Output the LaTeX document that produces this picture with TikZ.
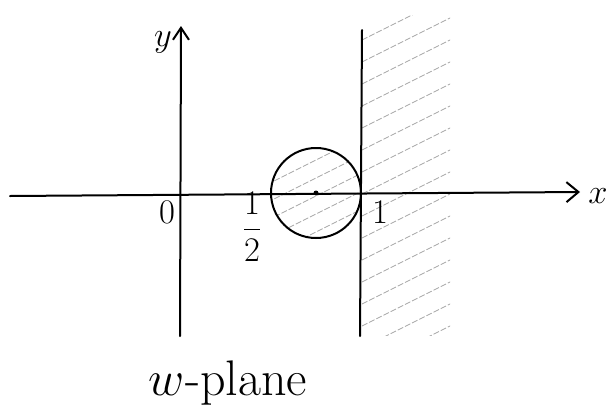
\documentclass[tikz,border=0pt]{standalone}
\usepackage{amsmath}
\usetikzlibrary{arrows.meta}
\begin{document}
\begin{tikzpicture}[x=0.5pt,y=-0.5pt,
    axis/.style={line width=1pt, line cap=round},
    hatch/.style={black!35, line width=0.4pt, dash pattern=on 3pt off 1pt},
    lbl/.style={font=\fontsize{17}{19}\selectfont}]
  \useasboundingbox (0,0) rectangle (616,413);

  % hatching of the half plane right of 1
  \begin{scope}
    \clip (362,15) rectangle (450,335);
    \foreach \k in {0,...,16}
      \draw[hatch] (362,40+\k*22) -- ++(90,-45);
  \end{scope}

  % disc round 1/2
  \coordinate (c) at (316,193);
  \begin{scope}
    \clip (c) circle (45);
    \foreach \k in {0,...,7}
      \draw[hatch] (260,170+\k*18) -- ++(120,-60);
  \end{scope}
  \draw[axis] (c) circle (45);
  \fill (c) circle (2.5);

  % axes
  \coordinate (xs) at (10,196);
  \coordinate (xe) at (580,192);
  \coordinate (ys) at (180,336);
  \coordinate (ye) at (181,26);
  \draw[axis,-{Straight Barb[length=6pt,width=10pt]}] (xs) -- (xe);
  \draw[axis,-{Straight Barb[length=6pt,width=8pt]}] (ys) -- (ye);

  % line Re w = 1
  \coordinate (ls) at (360,336);
  \coordinate (le) at (362,30);
  \draw[axis] (ls) -- (le);

  % labels
  \node[lbl] (xl) at (598,196) {$x$};
  \node[lbl] (yl) at (163,42) {$y$};
  \node[lbl] (o) at (167,212) {$0$};
  \node[lbl] (half) at (252,227) {$\dfrac{1}{2}$};
  \node[lbl] (one) at (380,212) {$1$};
  \node[font=\fontsize{25}{28}\selectfont] (title) at (228,383) {$w$-plane};
\end{tikzpicture}
\end{document}
